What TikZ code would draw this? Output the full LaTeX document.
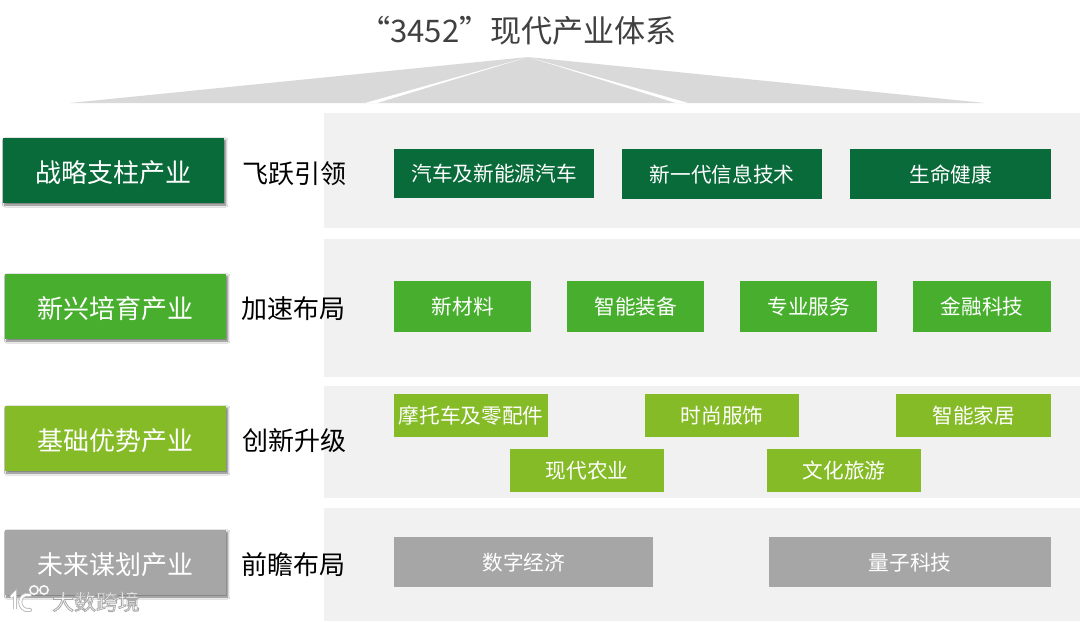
\documentclass[tikz,border=0pt]{standalone}
\usepackage{fontspec}
\setmainfont{Noto Sans CJK SC}
\usetikzlibrary{calc,shadows.blur}
\definecolor{dkgreen}{HTML}{0A6B3A}
\definecolor{midgreen}{HTML}{47AF2D}
\definecolor{lime}{HTML}{85BB27}
\definecolor{midgray}{HTML}{A6A6A6}
\definecolor{panelgray}{HTML}{F1F1F1}
\definecolor{fangray}{HTML}{D9D9D9}
\definecolor{titlegray}{HTML}{404040}
\newcommand{\outlined}[1]{\special{pdf:code q 2 Tr 0.66 0.66 0.66 RG 0.6 w}#1\special{pdf:code Q}}
\tikzset{
  x=0.75pt,y=-0.75pt,
  panel/.style={fill=panelgray,draw=none},
  leftbox/.style={anchor=north west,inner sep=0pt,text=white,
     font=\fontsize{19.5}{22}\selectfont,text depth=0pt,
     minimum width=165.75pt,minimum height=48.75pt,
     blur shadow={shadow xshift=1.1pt,shadow yshift=-1.3pt,shadow blur radius=1.6pt,shadow blur steps=6,shadow opacity=55}},
  item/.style={anchor=north west,inner sep=0pt,text=white,font=\fontsize{15.5}{18}\selectfont},
  verb/.style={anchor=center,inner sep=0pt,text=black,font=\fontsize{19.5}{22}\selectfont}
}
\newcommand{\itembox}[7]{% name, x1,y1,x2,y2, colour, text
  \path let \n1={(#4-#2)*0.75},\n2={(#5-#3)*0.75} in
    node[item,fill=#6,minimum width=\n1 pt,minimum height=\n2 pt] (#1) at (#2,#3) {\raisebox{-0.9pt}{#7}};}
\begin{document}
\begin{tikzpicture}
\useasboundingbox (0,0) rectangle (1080,621);
\fill[white] (0,0) rectangle (1080,621);
% title
\node[font=\fontsize{23.3}{26}\selectfont,text=titlegray,inner sep=0pt] (title) at (526,31) {\hspace{-12pt}“3452”现代产业体系};
% fan
\fill[fangray] (528,57) -- (70,103) -- (985,103) -- cycle;
\fill[white] (528,57) -- (365,103) -- (377,103) -- cycle;
\fill[white] (528,57) -- (676,103) -- (688,103) -- cycle;
% panels
\fill[panel] (324,113) rectangle (1080,228);
\fill[panel] (324,239) rectangle (1080,377);
\fill[panel] (324,386) rectangle (1080,498);
\fill[panel] (324,508) rectangle (1080,621);
% left boxes
\node[leftbox,fill=dkgreen] (l1) at (3,138) {\raisebox{-1.2pt}{战略支柱产业}};
\node[leftbox,fill=midgreen] (l2) at (5,274) {\raisebox{-1.2pt}{新兴培育产业}};
\node[leftbox,fill=lime] (l3) at (5,406) {\raisebox{-1.2pt}{基础优势产业}};
\node[leftbox,fill=midgray] (l4) at (5,530) {\raisebox{-1.2pt}{未来谋划产业}};
% verbs
\node[verb] (v1) at (294,173.5) {飞跃引领};
\node[verb] (v2) at (293,308.5) {加速布局};
\node[verb] (v3) at (294,441) {创新升级};
\node[verb] (v4) at (293,564.5) {前瞻布局};
% items
\itembox{a1}{394}{149}{594}{198}{dkgreen}{汽车及新能源汽车}
\itembox{a2}{622}{149}{822}{199}{dkgreen}{新一代信息技术}
\itembox{a3}{850}{149}{1051}{199}{dkgreen}{生命健康}
\itembox{b1}{394}{281}{531}{332}{midgreen}{新材料}
\itembox{b2}{567}{281}{704}{332}{midgreen}{智能装备}
\itembox{b3}{740}{281}{877}{332}{midgreen}{专业服务}
\itembox{b4}{913}{281}{1051}{332}{midgreen}{金融科技}
\itembox{c1}{394}{394}{548}{437}{lime}{摩托车及零配件}
\itembox{c2}{645}{394}{799}{437}{lime}{时尚服饰}
\itembox{c3}{896}{394}{1051}{437}{lime}{智能家居}
\itembox{c4}{510}{449}{664}{492}{lime}{现代农业}
\itembox{c5}{767}{449}{921}{492}{lime}{文化旅游}
\itembox{d1}{394}{537}{653}{587}{midgray}{数字经济}
\itembox{d2}{769}{537}{1051}{587}{midgray}{量子科技}
% watermark
\foreach \w/\c in {3pt/black!28,1.7pt/white}{
  \draw[line width=\w,\c] (11,597) -- (15,593) -- (15,609);
  \draw[line width=\w,\c,line cap=round] (30,595) .. controls (17,592) and (17,612) .. (30,610);
}
\foreach \w/\c in {1.8pt/black!28,0.9pt/white}{
  \draw[line width=\w,\c] (34,590) circle[radius=4.2];
  \draw[line width=\w,\c] (44,590) circle[radius=4.2];
}
\node[inner sep=0pt,text=white,font=\fontsize{16.4}{18}\selectfont] (wmtext) at (96,601.5) {\outlined{大数跨境}};
\end{tikzpicture}
\end{document}
